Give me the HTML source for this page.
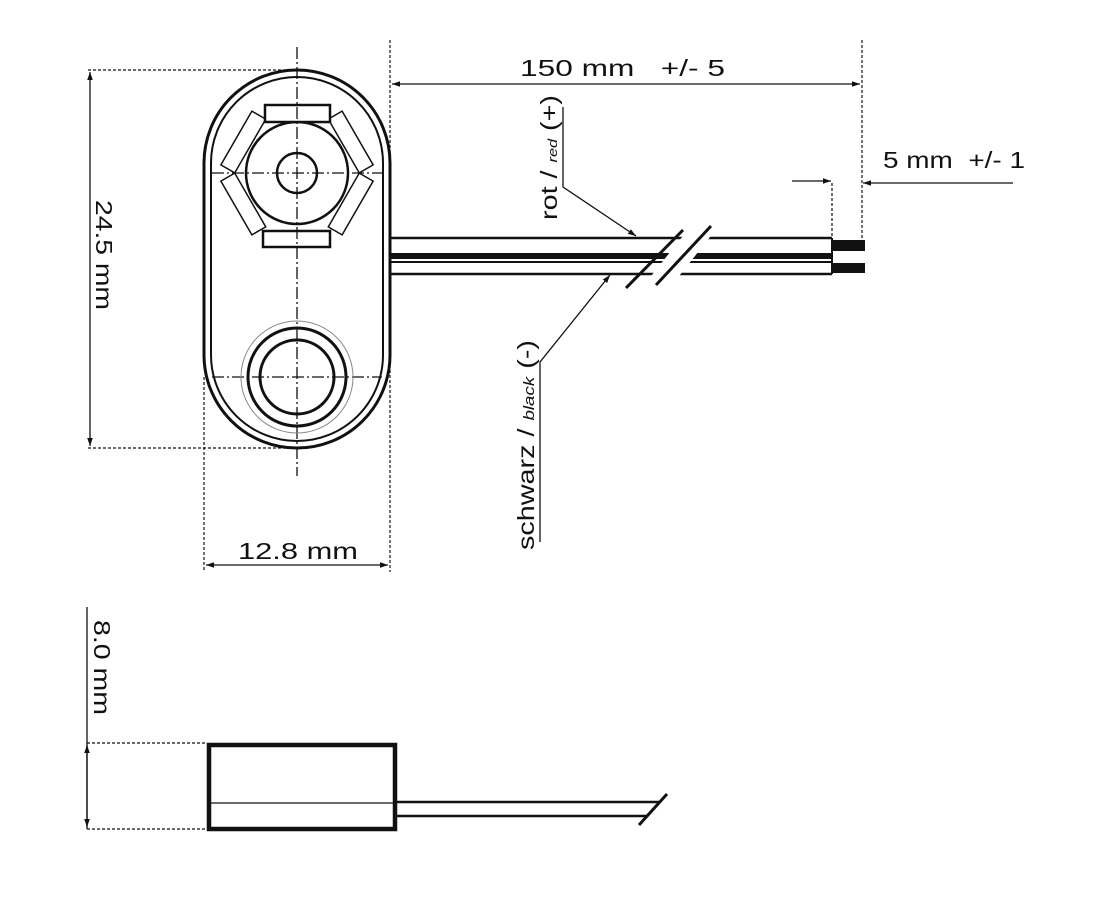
<!DOCTYPE html>
<html><head><meta charset="utf-8"><style>
html,body{margin:0;padding:0;background:#fff}
svg{display:block}
text{font-family:"Liberation Sans",sans-serif;fill:#111}
</style></head><body>
<svg width="1100" height="909" viewBox="0 0 1100 909" xmlns="http://www.w3.org/2000/svg">
<defs>
<marker id="a" viewBox="0 0 10 10" refX="10" refY="5" markerWidth="12" markerHeight="8" orient="auto-start-reverse" markerUnits="userSpaceOnUse"><path d="M0,1.5 L10,5 L0,8.5 z" fill="#111"/></marker>
</defs>
<g stroke="#111" fill="none">
<rect x="204" y="70" width="186" height="378" rx="93" ry="93" stroke-width="3"/>
<rect x="211" y="77" width="172" height="364" rx="86" ry="86" stroke-width="2"/>
<g stroke-width="1.5" fill="#fff">
<rect x="-31" y="-8" width="62" height="16" transform="translate(297,173) rotate(-60) translate(0,-62)"/>
<rect x="-31" y="-8" width="62" height="16" transform="translate(297,173) rotate(60) translate(0,-62)"/>
<rect x="-31" y="-8" width="62" height="16" transform="translate(297,173) rotate(120) translate(0,-62)"/>
<rect x="-31" y="-8" width="62" height="16" transform="translate(297,173) rotate(240) translate(0,-62)"/>
</g>
<circle cx="297" cy="173" r="51" stroke-width="2.5" fill="#fff"/>
<circle cx="297" cy="173" r="20" stroke-width="2.5"/>
<rect x="265" y="105" width="65" height="17" stroke-width="2.5" fill="#fff"/>
<rect x="263" y="231" width="67" height="16" stroke-width="2.5" fill="#fff"/>
<g stroke-width="1.3" stroke-dasharray="12,3,2,3">
<line x1="297" y1="47" x2="297" y2="476"/>
<line x1="212" y1="173" x2="382" y2="173"/>
<line x1="212" y1="377" x2="382" y2="377"/>
</g>
<circle cx="297" cy="377" r="56" stroke-width="1" stroke="#888"/>
<circle cx="297" cy="377" r="49" stroke-width="3"/>
<circle cx="297" cy="377" r="37" stroke-width="3"/>
<g stroke-width="1.2" stroke-dasharray="3,2">
<line x1="88" y1="70" x2="297" y2="70"/>
<line x1="88" y1="448" x2="297" y2="448"/>
<line x1="204" y1="377" x2="204" y2="572"/>
<line x1="390" y1="40" x2="390" y2="572"/>
<line x1="862" y1="40" x2="862" y2="250"/>
<line x1="832" y1="183" x2="832" y2="240"/>
<line x1="87" y1="743" x2="207" y2="743"/>
<line x1="87" y1="829" x2="207" y2="829"/>
</g>
<g stroke-width="1.3">
<line x1="90" y1="72" x2="90" y2="446" marker-start="url(#a)" marker-end="url(#a)"/>
<line x1="206" y1="565" x2="388" y2="565" marker-start="url(#a)" marker-end="url(#a)"/>
<line x1="392" y1="84" x2="860" y2="84" marker-start="url(#a)" marker-end="url(#a)"/>
<line x1="792" y1="181" x2="831" y2="181" marker-end="url(#a)"/>
<line x1="1013" y1="183" x2="863" y2="183" marker-end="url(#a)"/>
<line x1="87" y1="607" x2="87" y2="829"/>
<line x1="87" y1="745" x2="87" y2="827" marker-start="url(#a)" marker-end="url(#a)"/>
</g>
<line x1="390" y1="238" x2="832" y2="238" stroke-width="2.5"/>
<line x1="390" y1="256" x2="832" y2="256" stroke-width="6"/>
<line x1="390" y1="262" x2="832" y2="262" stroke-width="2"/>
<line x1="390" y1="274" x2="832" y2="274" stroke-width="2.5"/>
<line x1="832" y1="238" x2="832" y2="274" stroke-width="2"/>
<rect x="833" y="240" width="32" height="11" fill="#111" stroke="none"/>
<rect x="833" y="263" width="32" height="10" fill="#111" stroke="none"/>
<polygon points="640,290 668,290 714,232 686,232" fill="#fff" stroke="none"/>
<line x1="626" y1="288" x2="683" y2="230" stroke-width="3"/>
<line x1="656" y1="285" x2="711" y2="226" stroke-width="3"/>
<polyline points="563,107 563,187 636,236" stroke-width="1.3" marker-end="url(#a)"/>
<polyline points="540,542 540,362 610,275" stroke-width="1.3" marker-end="url(#a)"/>
<rect x="209" y="745" width="186" height="84" stroke-width="4.5"/>
<line x1="209" y1="803" x2="396" y2="803" stroke-width="1.3"/>
<line x1="396" y1="802" x2="660" y2="802" stroke-width="2.5"/>
<line x1="396" y1="816" x2="648" y2="816" stroke-width="2.5"/>
<line x1="639" y1="825" x2="667" y2="794" stroke-width="3"/>
</g>
<g font-size="23">
<text x="520" y="76" textLength="205" lengthAdjust="spacingAndGlyphs">150 mm&#160;&#160;&#160;+/- 5</text>
<text x="883" y="168" textLength="142" lengthAdjust="spacingAndGlyphs">5 mm&#160;&#160;+/- 1</text>
<text x="238" y="559" textLength="120" lengthAdjust="spacingAndGlyphs">12.8 mm</text>
<text transform="translate(96,200) rotate(90)" textLength="110" lengthAdjust="spacingAndGlyphs">24.5 mm</text>
<text transform="translate(94,620) rotate(90)" textLength="95" lengthAdjust="spacingAndGlyphs">8.0 mm</text>
<text transform="translate(557,220) rotate(-90)" textLength="125" lengthAdjust="spacingAndGlyphs">rot / <tspan font-size="13" font-style="italic">red</tspan> (+)</text>
<text transform="translate(534,550) rotate(-90)" textLength="210" lengthAdjust="spacingAndGlyphs">schwarz / <tspan font-size="15" font-style="italic">black</tspan> (-)</text>
</g>
</svg>
</body></html>
